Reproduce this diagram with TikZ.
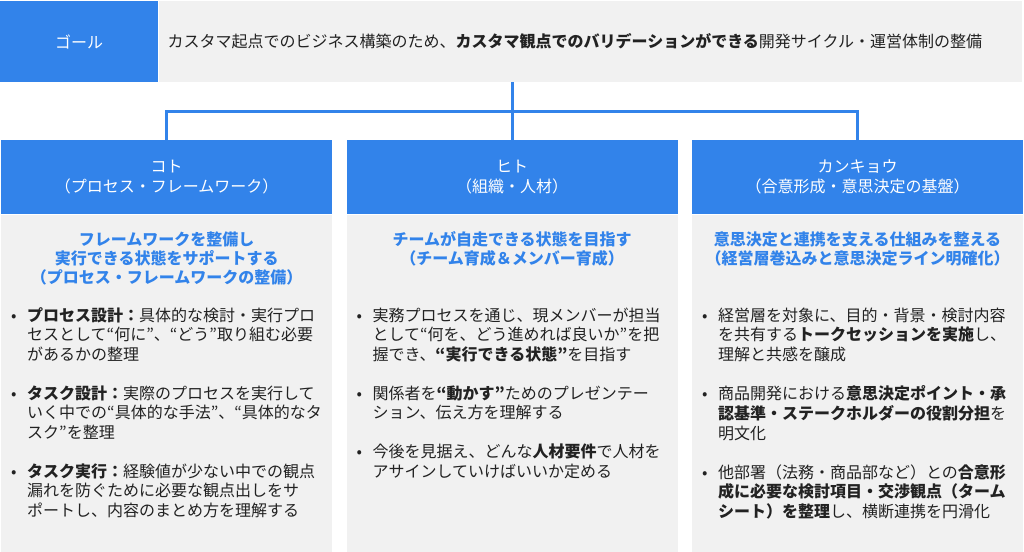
\documentclass[tikz,border=0pt]{standalone}
\usepackage{fontspec}
\setmainfont{Noto Sans CJK JP}
\usetikzlibrary{positioning, calc}
\definecolor{GLBlue}{HTML}{3283EA}
\definecolor{GLPanel}{HTML}{F1F1F1}
\definecolor{GLInk}{HTML}{222222}
\newcommand{\bmark}{\makebox[16pt][l]{•}}

\begin{document}
\begin{tikzpicture}[
        x=1pt, y=-1pt,
        node distance=14pt,
        every node/.style={font=\fontsize{16}{19.5}\selectfont, inner sep=0pt},
        key/.style={rectangle, fill=GLBlue, text=white, minimum width=158pt, minimum height=81pt},
        goalbox/.style={rectangle, fill=GLPanel, text=GLInk, text width=845pt, inner xsep=9pt, minimum height=81pt, align=left},
        head/.style={rectangle, fill=GLBlue, text=white, minimum width=331pt, minimum height=74pt, align=center, font=\fontsize{16}{20}\selectfont},
        panel/.style={rectangle, fill=GLPanel, minimum width=331pt, minimum height=337pt},
        lead/.style={anchor=north, text=GLBlue, align=center, font=\bfseries\fontsize{16}{19}\selectfont},
        list/.style={anchor=north west, text=GLInk},
        link/.style={draw=GLBlue, line width=3pt}
    ]
        \useasboundingbox (0,0) rectangle (1024,551);

        % goal row
        \node[key, anchor=north west] (goal) at (0,1) {ゴール};
        \node[goalbox, right=0pt of goal] (goaltext) {カスタマ起点でのビジネス構築のため、\textbf{カスタマ観点でのバリデーションができる}開発サイクル・運営体制の整備};

        % three pillars
        \node[head, anchor=north west] (koto) at (1,140) {コト\\（プロセス・フレームワーク）};
        \node[head, right=of koto] (hito) {ヒト\\（組織・人材）};
        \node[head, right=of hito] (kankyo) {カンキョウ\\（合意形成・意思決定の基盤）};

        \node[panel, below=0pt of koto] (kotobody) {};
        \node[panel, below=0pt of hito] (hitobody) {};
        \node[panel, below=0pt of kankyo] (kankyobody) {};

        % connectors
        \coordinate (fork) at ($(goaltext.south)!0.5!(hito.north)$);
        \draw[link] (goaltext.south -| hito.north) -- (hito.north);
        \draw[link] (koto.north) |- (fork) -| (kankyo.north);

        % leads
        \node[lead] (kotolead) at ([yshift=-17pt]kotobody.north) {フレームワークを整備し\\実行できる状態をサポートする\\（プロセス・フレームワークの整備）};
        \node[lead] (hitolead) at ([yshift=-17pt]hitobody.north) {チームが自走できる状態を目指す\\（チーム育成＆メンバー育成）};
        \node[lead] (kankyolead) at ([yshift=-17pt]kankyobody.north) {意思決定と連携を支える仕組みを整える\\（経営層巻込みと意思決定ライン明確化）};

        % bullet lists
        \node[list] (kotolist) at ([shift={(10,93)}]kotobody.north west) {\begin{tabular}{@{}l@{}l@{}}
            \bmark & \textbf{プロセス設計：}具体的な検討・実行プロ\\
                   & セスとして“何に”、“どう”取り組む必要\\
                   & があるかの整理\\[19.5pt]
            \bmark & \textbf{タスク設計：}実際のプロセスを実行して\\
                   & いく中での“具体的な手法”、“具体的なタ\\
                   & スク”を整理\\[19.5pt]
            \bmark & \textbf{タスク実行：}経験値が少ない中での観点\\
                   & 漏れを防ぐために必要な観点出しをサ\\
                   & ポートし、内容のまとめ方を理解する
        \end{tabular}};
        \node[list] (hitolist) at ([shift={(10,93)}]hitobody.north west) {\begin{tabular}{@{}l@{}l@{}}
            \bmark & 実務プロセスを通じ、現メンバーが担当\\
                   & として“何を、どう進めれば良いか”を把\\
                   & 握でき、\textbf{“実行できる状態”}を目指す\\[19.5pt]
            \bmark & 関係者を\textbf{“動かす”}ためのプレゼンテー\\
                   & ション、伝え方を理解する\\[19.5pt]
            \bmark & 今後を見据え、どんな\textbf{人材要件}で人材を\\
                   & アサインしていけばいいか定める
        \end{tabular}};
        \node[list] (kankyolist) at ([shift={(10,93)}]kankyobody.north west) {\begin{tabular}{@{}l@{}l@{}}
            \bmark & 経営層を対象に、目的・背景・検討内容\\
                   & を共有する\textbf{トークセッションを実施}し、\\
                   & 理解と共感を醸成\\[19.5pt]
            \bmark & 商品開発における\textbf{意思決定ポイント・承}\\
                   & \textbf{認基準・ステークホルダーの役割分担}を\\
                   & 明文化\\[19.5pt]
            \bmark & 他部署（法務・商品部など）との\textbf{合意形}\\
                   & \textbf{成に必要な検討項目・交渉観点（ターム}\\
                   & \textbf{シート）を整理}し、横断連携を円滑化
        \end{tabular}};
    \end{tikzpicture}
\end{document}
